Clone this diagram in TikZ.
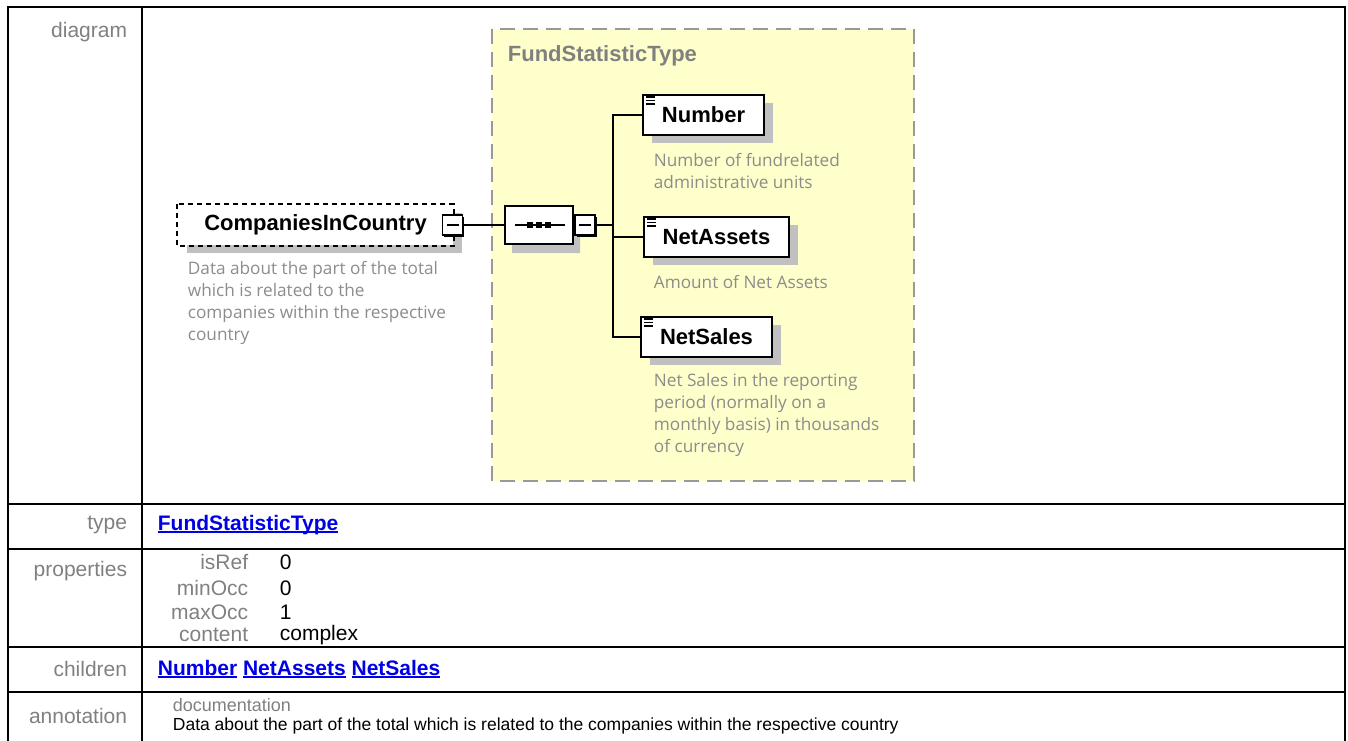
\documentclass[tikz,border=0pt]{standalone}
\usepackage{fontspec}
\setmainfont{Liberation Sans}
\newfontfamily\descfont{Open Sans}
\usetikzlibrary{shapes.misc,shadows}

\definecolor{labgray}{RGB}{128,128,128}
\definecolor{descgray}{RGB}{140,140,140}
\definecolor{shadegray}{RGB}{192,192,192}
\definecolor{typefill}{RGB}{255,255,204}
\definecolor{typeline}{RGB}{153,153,153}
\definecolor{linkblue}{RGB}{0,0,230}

\newcommand\ulink[1]{\setbox0\hbox{#1}\rlap{\rule[-2.6pt]{\wd0}{1.6pt}}\box0\relax}

\begin{document}
\begin{tikzpicture}[
  x=1pt,y=-1pt,
  line width=1.8pt,
  tableline/.style={line width=2.4pt},
  rowlabel/.style={anchor=east,inner sep=0pt,text=labgray,font=\fontsize{21}{24}\selectfont},
  proplabel/.style={rowlabel},
  cellvalue/.style={anchor=west,inner sep=0pt,font=\fontsize{21}{24}\selectfont},
  link/.style={cellvalue,text=linkblue,font=\bfseries\fontsize{21}{24}\selectfont},
  elem/.style={draw,fill=white,line width=1.8pt,minimum height=40pt,inner xsep=19pt,
    font=\bfseries\fontsize{22}{26}\selectfont,
    drop shadow={shadow xshift=9pt,shadow yshift=-8pt,fill=shadegray,opacity=1}},
  minusbox/.style={draw,fill=white,line width=1.5pt,minimum size=20pt,inner sep=0pt,
    drop shadow={shadow xshift=1.6pt,shadow yshift=-1.6pt,fill=black,opacity=1},
    path picture={\draw[line width=1.4pt]
      ([xshift=4pt]path picture bounding box.west) --
      ([xshift=-4pt]path picture bounding box.east);}},
  desc/.style={anchor=west,inner sep=0pt,align=left,text=descgray,
    font=\descfont\fontsize{17.2}{22}\selectfont}
]
  \useasboundingbox (0,0) rectangle (1348,740);

  % Table frame, label column and row separators.
  \draw[tableline] (8,7) rectangle (1345,760);
  \draw[tableline] (142,7) -- (142,760);
  \foreach \y in {504,549,647,692}
    \draw[tableline] (8,\y) -- (1345,\y);

  \foreach \y/\t in {32/diagram,525/type,571/properties,669/children,716/annotation}
    \node[rowlabel] (lab\t) at (128,\y) {\t};

  % Type box of the element.
  \fill[typefill] (492,29) rectangle (914,481);
  \draw[typeline,line width=2pt,dash pattern=on 15pt off 8pt] (492,29) rectangle (914,481);
  \node[anchor=west,inner sep=0pt,text=labgray,font=\bfseries\fontsize{22}{26}\selectfont]
    (typeHead) at (507,56) {FundStatisticType};

  % Optional element and its documentation.
  \node[elem,draw=none,minimum width=275pt,inner xsep=0pt] (compNode) at (315.5,225) {CompaniesInCountry};
  \draw[dash pattern=on 5pt off 4pt] (compNode.north west) rectangle (compNode.south east);
  \node[minusbox] (compMinus) at (452.5,225) {};
  \node[desc] (compDesc) at (187,302.5)
    {Data about the part of the total\\which is related to the\\companies within the respective\\country};

  % Sequence compositor.
  \node[draw,fill=white,line width=1.6pt,chamfered rectangle,
    chamfered rectangle xsep=9pt,chamfered rectangle ysep=9pt,
    minimum width=68pt,minimum height=38pt,inner sep=0pt,
    drop shadow={shadow xshift=7pt,shadow yshift=-9pt,fill=shadegray,opacity=1}]
    (seqNode) at (539,225) {};
  \draw[line width=1.4pt] ([xshift=-24pt]seqNode.center) -- ([xshift=26pt]seqNode.center);
  \foreach \dx in {-9,0,9}
    \fill ([xshift=\dx pt]seqNode.center) +(-2.6,-2.6) rectangle +(2.6,2.6);
  \node[minusbox] (seqMinus) at (585,225) {};

  % Child elements.
  \node[elem] (numberNode) at (703.5,115) {Number};
  \node[elem] (assetsNode) at (716.5,237) {NetAssets};
  \node[elem] (salesNode) at (706.5,337) {NetSales};
  \foreach \n in {numberNode,assetsNode,salesNode}
    \foreach \dy in {3,6.5,10}
      \draw[line width=1.3pt] ([shift={(4pt,-\dy pt)}]\n.north west) -- ++(9,0);

  \node[desc] (numberDesc) at (653,170.5) {Number of fundrelated\\administrative units};
  \node[desc] (assetsDesc) at (653,282) {Amount of Net Assets};
  \node[desc] (salesDesc) at (653,415)
    {Net Sales in the reporting\\period (normally on a\\monthly basis) in thousands\\of currency};

  % Connectors.
  \coordinate (bus) at (613,0);
  \draw (compMinus.east) -- (seqNode.west);
  \draw (seqMinus.east) -- (seqMinus.east -| bus);
  \draw (numberNode.west) -- (numberNode.west -| bus) |- (salesNode.west);
  \draw (assetsNode.west) -- (assetsNode.west -| bus);

  % Rows below the diagram.
  \node[link] (typeLink) at (157,525) {\ulink{FundStatisticType}};

  \foreach \y/\k/\v in {562/isRef/0,588/minOcc/0,612/maxOcc/1,635/content/complex}{
    \node[proplabel] (key\k) at (249,\y) {\k};
    \node[cellvalue] (val\k) at (279,\y) {\v};
  }

  \node[link] (childLinks) at (157,669)
    {\ulink{Number} \ulink{NetAssets} \ulink{NetSales}};

  \node[cellvalue,text=labgray,font=\fontsize{18}{20}\selectfont] (docHead) at (172,705) {documentation};
  \node[cellvalue,font=\fontsize{17.5}{20}\selectfont] (docText) at (172,726)
    {Data about the part of the total which is related to the companies within the respective country};
\end{tikzpicture}
\end{document}
